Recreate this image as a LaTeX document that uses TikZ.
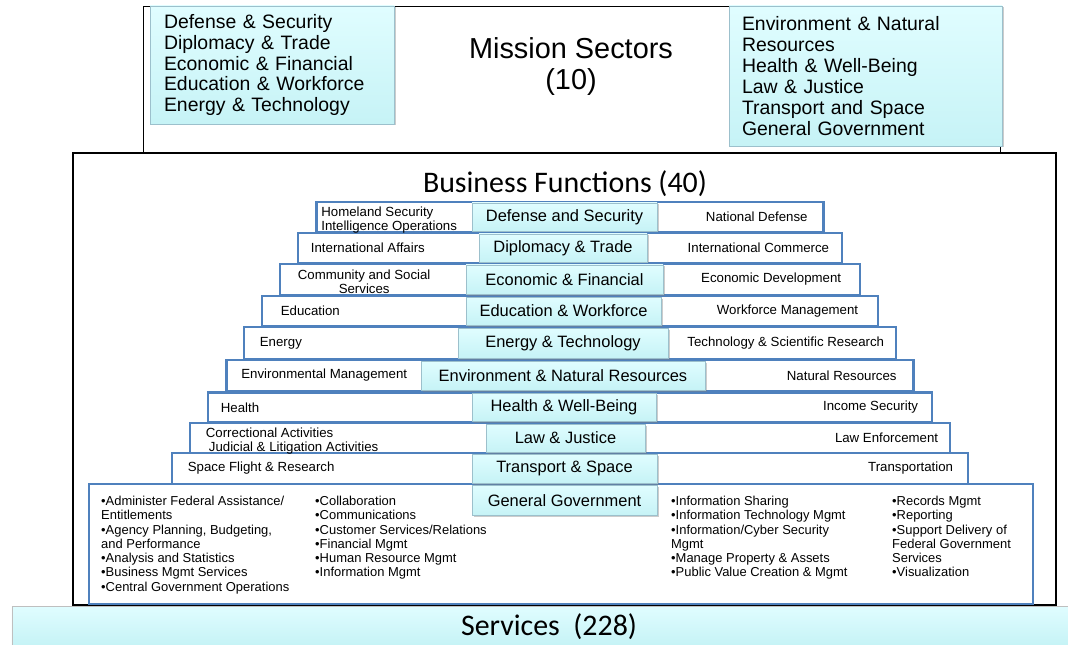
\documentclass[tikz,border=0pt]{standalone}
\usepackage{fontspec}
\setmainfont{Liberation Sans}
\newfontfamily\calib{Carlito}
\usetikzlibrary{positioning,shadows}
\definecolor{tierblue}{HTML}{4F81BD}
\definecolor{cyantop}{HTML}{E0FDFF}
\definecolor{cyanbot}{HTML}{C6F3F6}
\definecolor{cyanline}{HTML}{9CC0CC}
\tikzset{
	tier/.style={draw=tierblue, line width=2.6bp, fill=white, inner sep=0pt}, % one step of the pyramid
	sector/.style={draw=cyanline, line width=0.6bp, top color=cyantop, bottom color=cyanbot,
		drop shadow={shadow xshift=1.5bp, shadow yshift=-1.5bp, opacity=0.4},
		inner sep=0pt, font=\fontsize{16.5}{18}\selectfont},
	sidetext/.style={font=\fontsize{13.3}{14}\selectfont, inner sep=0pt, align=left},
	gglist/.style={font=\fontsize{13}{14.3}\selectfont, inner sep=0pt, align=left, anchor=north west},
	heading/.style={font=\calib\fontsize{30}{32}\selectfont, inner sep=0pt},
	servbar/.style={draw=black!25, line width=0.6bp, top color=cyantop, bottom color=cyanbot, inner sep=0pt},
}
\begin{document}
\begin{tikzpicture}[x=1bp, y=-1bp]
\useasboundingbox (0,0) rectangle (1068,645);

% mission sectors
\node[draw, line width=0.8bp, minimum width=857bp, minimum height=147bp, inner sep=0pt] (mission) at (571.5,79.5) {};
\node[sector, minimum width=244bp, minimum height=118bp, inner xsep=14bp, text width=216bp, align=left,
	font=\fontsize{19.5}{21}\selectfont] (secleft) at (272,65)
	{Defense \& Security\\Diplomacy \& Trade\\Economic \& Financial\\Education \& Workforce\\Energy \& Technology};
\node[sector, minimum width=273bp, minimum height=140bp, inner xsep=13bp, text width=247bp, align=left,
	font=\fontsize{19.5}{21.2}\selectfont] (secright) at (865.5,76)
	{Environment \& Natural\\Resources\\Health \& Well-Being\\Law \& Justice\\Transport and Space\\General Government};
\node[font=\fontsize{29}{32}\selectfont, align=center, inner sep=0pt] (missiontxt) at (571,66.5) {Mission Sectors\\(10)};

% business functions
\node[draw, line width=2.5bp, minimum width=983bp, minimum height=452bp, inner sep=0pt] (business) at (564.5,379) {};
\node[heading] (businesstxt) at (565,184) {Business Functions (40)};

\node[tier, minimum width=507bp, minimum height=30bp] (dsrow) at (570,217) {};
\node[tier, minimum width=544bp, minimum height=30bp] (dtrow) at (570,248) {};
\node[tier, minimum width=580bp, minimum height=31bp] (efrow) at (570,279.5) {};
\node[tier, minimum width=616bp, minimum height=30bp] (ewrow) at (570,311) {};
\node[tier, minimum width=652bp, minimum height=32bp] (etrow) at (570,343) {};
\node[tier, minimum width=687bp, minimum height=31bp] (enrow) at (570,375.5) {};
\node[tier, minimum width=724bp, minimum height=30bp] (hwrow) at (570,407.5) {};
\node[tier, minimum width=760bp, minimum height=30bp] (ljrow) at (570,438) {};
\node[tier, minimum width=796bp, minimum height=31bp] (tsrow) at (570,468.5) {};
\node[tier, minimum width=944bp, minimum height=120bp] (ggrow) at (561,544) {};

\node[sector, minimum width=185bp, minimum height=28bp] (ds) at (564.5,217) {Defense and Security};
\node[sector, minimum width=168bp, minimum height=28bp] (dt) at (563,248) {Diplomacy \& Trade};
\node[sector, minimum width=197bp, minimum height=29bp] (ef) at (564.5,279.5) {Economic \& Financial};
\node[sector, minimum width=195bp, minimum height=28bp] (ew) at (563.5,311) {Education \& Workforce};
\node[sector, minimum width=210bp, minimum height=30bp] (et) at (563,343) {Energy \& Technology};
\node[sector, minimum width=284bp, minimum height=29bp] (en) at (563,375.5) {Environment \& Natural Resources};
\node[sector, minimum width=184bp, minimum height=28bp] (hw) at (564,407.5) {Health \& Well-Being};
\node[sector, minimum width=159bp, minimum height=28bp] (lj) at (565.5,438) {Law \& Justice};
\node[sector, minimum width=185bp, minimum height=29bp] (ts) at (564.5,468.5) {Transport \& Space};
\node[sector, minimum width=185bp, minimum height=30bp] (gg) at (564.5,500.5) {General Government};

% left and right functions
\node[sidetext, right=6bp of dsrow.west, yshift=-3bp] (dsleft) {Homeland Security\\Intelligence Operations};
\node[sidetext, left=17bp of dsrow.east] (dsright) {National Defense};
\node[sidetext, right=14bp of dtrow.west] (dtleft) {International Affairs};
\node[sidetext, left=14bp of dtrow.east] (dtright) {International Commerce};
\node[sidetext, align=center, right=19bp of efrow.west, yshift=-2bp] (efleft) {Community and Social\\Services};
\node[sidetext, left=20bp of efrow.east] (efright) {Economic Development};
\node[sidetext, right=20bp of ewrow.west] (ewleft) {Education};
\node[sidetext, left=21bp of ewrow.east] (ewright) {Workforce Management};
\node[sidetext, right=17bp of etrow.west] (etleft) {Energy};
\node[sidetext, left=13bp of etrow.east] (etright) {Technology \& Scientific Research};
\node[sidetext, right=16bp of enrow.west] (enleft) {Environmental Management};
\node[sidetext, left=18bp of enrow.east] (enright) {Natural Resources};
\node[sidetext, right=14bp of hwrow.west] (hwleft) {Health};
\node[sidetext, left=15bp of hwrow.east] (hwright) {Income Security};
\node[sidetext, right=17bp of ljrow.west, yshift=-3bp] (ljleft) {Correctional Activities\\\hspace*{3bp}Judicial \& Litigation Activities};
\node[sidetext, left=13bp of ljrow.east] (ljright) {Law Enforcement};
\node[sidetext, right=17bp of tsrow.west] (tsleft) {Space Flight \& Research};
\node[sidetext, left=16bp of tsrow.east] (tsright) {Transportation};

% general government lists
\node[gglist] (ggone) at (101,496) {•Administer Federal Assistance/\\Entitlements\\•Agency Planning, Budgeting,\\and Performance\\•Analysis and Statistics\\•Business Mgmt Services\\•Central Government Operations};
\node[gglist] (ggtwo) at (315,496) {•Collaboration\\•Communications\\•Customer Services/Relations\\•Financial Mgmt\\•Human Resource Mgmt\\•Information Mgmt};
\node[gglist] (ggthree) at (671,496) {•Information Sharing\\•Information Technology Mgmt\\•Information/Cyber Security\\Mgmt\\•Manage Property \& Assets\\•Public Value Creation \& Mgmt};
\node[gglist] (ggfour) at (892,496) {•Records Mgmt\\•Reporting\\•Support Delivery of\\Federal Government\\Services\\•Visualization};

% services
\node[servbar, minimum width=1060bp, minimum height=39bp] (services) at (542,625.5) {};
\node[heading] (servicestxt) at (549,627) {Services\ \ (228)};
\end{tikzpicture}
\end{document}
